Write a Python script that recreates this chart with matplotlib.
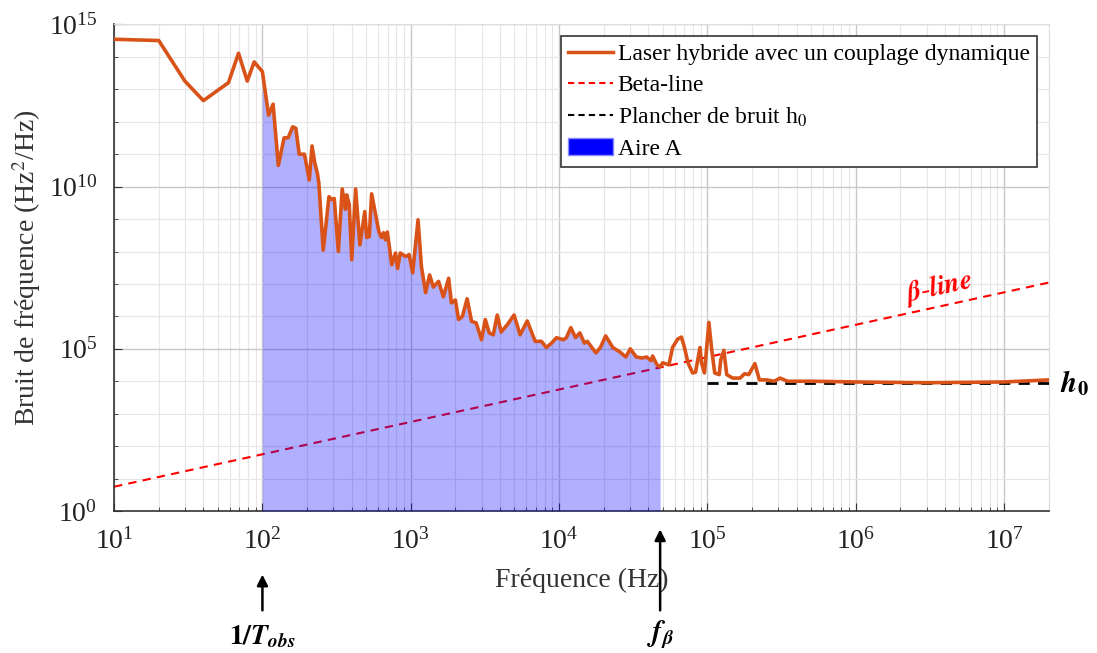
import numpy as np
import matplotlib
matplotlib.use("Agg")
import matplotlib.pyplot as plt
from matplotlib.ticker import LogLocator, NullFormatter
from matplotlib.patches import Patch
from matplotlib.lines import Line2D

plt.rcParams['font.family'] = ['Liberation Serif', 'DejaVu Serif']
plt.rcParams['mathtext.fontset'] = 'stix'

# frequency noise spectrum (Hz, Hz^2/Hz)
freq = [10, 20, 30, 40, 59, 69, 79, 88, 100, 110, 118, 128, 140, 149, 160, 168,
        177, 192, 207, 216, 225, 235, 240, 257, 281, 294, 305, 325, 345, 363,
        370, 385, 400, 425, 454, 490, 505, 525, 545, 610, 635, 655, 675, 695,
        745, 790, 815, 850, 925, 975, 1030, 1120, 1180, 1260, 1340, 1420, 1540,
        1660, 1800, 1880, 2000, 2100, 2230, 2400, 2570, 2760, 3000, 3180, 3380,
        3600, 3830, 4070, 4470, 4970, 5460, 6100, 6900, 7600, 8200, 8900, 9600,
        10700, 11200, 12000, 12900, 13800, 14800, 15500, 17700, 19000, 20600,
        23000, 25700, 28200, 30200, 33100, 36300, 38900, 41700, 42700, 45700,
        48000, 50000, 55000, 58200, 63100, 66800, 70000, 74000, 79400, 83200,
        89100, 91200, 95500, 98900, 102300, 107000, 112000, 120000, 123000,
        129000, 135000, 148000, 166000, 178000, 190000, 209000, 224000, 251000,
        282000, 309000, 347000, 500000, 1e6, 3e6, 1e7, 2e7]
noise = [3.5e14, 3.2e14, 1.8e13, 4.5e12, 1.6e13, 1.3e14, 1.8e13, 7e13, 3.5e13,
         1.6e12, 3.5e12, 4.5e10, 3.2e11, 3.2e11, 7e11, 6.3e11, 1e11, 1e11,
         1.6e10, 1.8e11, 5.6e10, 2.5e10, 1.3e10, 1.1e8, 4.9e9, 4e9, 4.3e9, 1e8,
         8.5e9, 2e9, 5.6e9, 2.8e9, 5.6e7, 8.5e9, 1.6e8, 1.7e9, 2.7e8, 2.9e8,
         6e9, 4e8, 2.7e8, 3.8e8, 2.3e8, 4e8, 3.9e7, 9e7, 3e7, 9e7, 7e7, 8e7,
         2.2e7, 9.5e8, 3.4e7, 5.4e6, 1.9e7, 8e6, 1.2e7, 4e6, 1.5e7, 2.6e6,
         3.2e6, 8e5, 1e6, 3.5e6, 7e5, 6.3e5, 1.9e5, 8e5, 3.1e5, 2.7e5, 1.1e6,
         3.3e5, 5.5e5, 1.1e6, 2.7e5, 7.2e5, 1.7e5, 1.7e5, 1.1e5, 1.5e5, 2.2e5,
         1.9e5, 2.2e5, 4.5e5, 2.2e5, 3.1e5, 1.5e5, 1.7e5, 7.5e4, 1.1e5, 2.5e5,
         1.1e5, 8e4, 5.6e4, 1e5, 5.6e4, 5.2e4, 5.6e4, 4.3e4, 6e4, 3.2e4, 2.8e4,
         3.7e4, 3.2e4, 1.1e5, 2e5, 2.3e5, 1.1e5, 3.7e4, 1.8e4, 1.9e4, 1.1e5,
         3.7e4, 1.8e4, 1.1e5, 6.5e5, 9e4, 1.8e4, 1.6e4, 4.5e4, 9e4, 1.6e4,
         1.25e4, 1.25e4, 1.7e4, 1.6e4, 3.5e4, 1.1e4, 1.1e4, 1e4, 1.25e4, 1e4,
         1e4, 9.5e3, 9e3, 9.5e3, 1.1e4]

beta_f = [10, 2e7]
beta_y = [5.6, 1.1e7]
h0_f = [1e5, 2e7]
h0_y = [9e3, 9e3]
f_obs = 100
f_beta = 48000

freq = np.array(freq)
noise = np.array(noise)

fig = plt.figure(figsize=(10.97, 6.53), dpi=100)
ax = fig.add_axes([0.104, 0.2175, 0.852, 0.745])

ax.plot(beta_f, beta_y, '--', color='red', lw=1.5, dashes=(4, 3), zorder=2)
mask = (freq >= f_obs) & (freq <= f_beta)
ax.fill_between(freq[mask], 1, noise[mask], color='blue', alpha=0.31, lw=0, zorder=3)
ax.plot(h0_f, h0_y, '--', color='black', lw=2, dashes=(4, 3), zorder=4)
ax.plot(freq, noise, color='#D95319', lw=2.6, zorder=5)

ax.set_xscale('log')
ax.set_yscale('log')
ax.set_xlim(10, 2e7)
ax.set_ylim(1, 1e15)

ax.set_yticks([1, 1e5, 1e10, 1e15])
ax.yaxis.set_minor_locator(LogLocator(base=10, subs=(1.0,), numticks=40))
ax.yaxis.set_minor_formatter(NullFormatter())
ax.xaxis.set_major_locator(LogLocator(base=10, numticks=20))
ax.xaxis.set_minor_locator(LogLocator(base=10, subs=np.arange(2, 10), numticks=40))
ax.xaxis.set_minor_formatter(NullFormatter())

ax.grid(True, which='major', color='#c8c8c8', lw=1.0)
ax.grid(True, which='minor', color='#e6e6e6', lw=0.8)
ax.tick_params(which='both', direction='in', top=False, right=False,
               labelsize=20, color='#333333', labelcolor='#222222')
ax.tick_params(which='major', length=6, pad=12)
ax.tick_params(which='minor', length=3)
for s in ['left', 'bottom']:
    ax.spines[s].set_color('#333333')
    ax.spines[s].set_linewidth(1.2)
for s in ['top', 'right']:
    ax.spines[s].set_color('#dddddd')

ax.set_xlabel('Fréquence (Hz)', fontsize=20, color='#333333', labelpad=10)
ax.set_ylabel('Bruit de fréquence (Hz$^2$/Hz)', fontsize=20, color='#333333', labelpad=4)

handles = [Line2D([], [], color='#D95319', lw=2.5),
           Line2D([], [], color='red', ls='--', lw=1.5, dashes=(3, 2)),
           Line2D([], [], color='black', ls='--', lw=1.5, dashes=(3, 2)),
           Patch(facecolor='blue', edgecolor='#8888ff')]
labels = ['Laser hybride avec un couplage dynamique', 'Beta-line',
          'Plancher de bruit h$_0$', 'Aire A']
leg = ax.legend(handles, labels, loc='upper right', fontsize=17, frameon=True,
                fancybox=False, edgecolor='#333333', framealpha=1,
                handlelength=1.9, handletextpad=0.2, borderpad=0.3,
                labelspacing=0.4, borderaxespad=0.5)
leg.get_frame().set_linewidth(1.2)

# annotations
ax.text(3.6e6, 8e6, r'$\mathbfit{\beta}\mathbf{\text{-}}\mathbfit{line}$', color='red',
        fontsize=20, rotation=12.5, ha='center', va='center')
ax.text(2.4e7, 9e3, r'$\mathbfit{h}_{\mathbf{0}}$', fontsize=21, ha='left', va='center')

ax.annotate('', xy=(f_obs, -0.125), xytext=(f_obs, -0.21),
            xycoords=('data', 'axes fraction'), textcoords=('data', 'axes fraction'),
            arrowprops=dict(arrowstyle='-|>', color='black', lw=1.8, mutation_scale=16),
            annotation_clip=False)
ax.text(f_obs, -0.26, r'$\mathbf{1/}\mathbfit{T}_{\mathbfit{obs}}$', fontsize=20,
        ha='center', va='center', transform=ax.get_xaxis_transform())
ax.annotate('', xy=(f_beta, -0.032), xytext=(f_beta, -0.21),
            xycoords=('data', 'axes fraction'), textcoords=('data', 'axes fraction'),
            arrowprops=dict(arrowstyle='-|>', color='black', lw=1.8, mutation_scale=16),
            annotation_clip=False)
ax.text(f_beta, -0.255, r'$\mathbfit{f}_{\mathbfit{\beta}}$', fontsize=21,
        ha='center', va='center', transform=ax.get_xaxis_transform())

fig.savefig('out.png', dpi=100)
